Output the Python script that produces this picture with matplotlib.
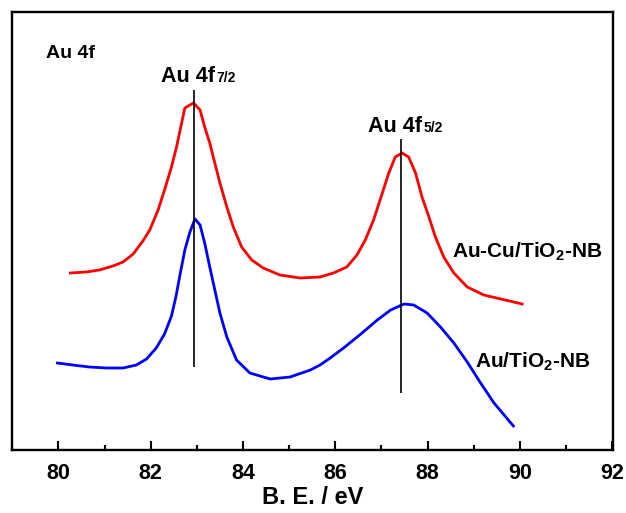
import matplotlib.pyplot as plt
from matplotlib.ticker import MultipleLocator

plt.rcParams["font.family"] = ["Liberation Sans", "DejaVu Sans"]
plt.rcParams["mathtext.default"] = "regular"

# Au-Cu/TiO2-NB (red), binding energy in eV vs. intensity (a.u.)
red_be = [80.26, 80.6, 80.89, 81.18, 81.4, 81.62, 81.83, 81.98, 82.16, 82.3,
          82.45, 82.56, 82.67, 82.74, 82.85, 82.93, 83.07, 83.17, 83.28, 83.39,
          83.5, 83.65, 83.79, 83.97, 84.19, 84.44, 84.8, 85.24, 85.67, 85.96,
          86.25, 86.47, 86.65, 86.83, 87.02, 87.16, 87.3, 87.45, 87.59, 87.74,
          87.88, 88.03, 88.17, 88.35, 88.57, 88.86, 89.22, 89.59, 90.05]
red_int = [183, 184, 186, 190, 194, 202, 215, 226, 246, 266,
           289, 309, 333, 348, 351, 353, 346, 329, 313, 293,
           273, 249, 229, 209, 196, 188, 181, 178, 179, 183,
           189, 201, 216, 236, 263, 283, 299, 303, 299, 283,
           259, 239, 219, 199, 183, 169, 161, 157, 152]

# Au/TiO2-NB (blue)
blue_be = [79.98, 80.31, 80.67, 81.04, 81.4, 81.69, 81.91, 82.12, 82.3, 82.45,
           82.55, 82.63, 82.74, 82.85, 82.96, 83.07, 83.17, 83.28, 83.39, 83.5,
           83.65, 83.86, 84.15, 84.59, 85.02, 85.46, 85.67, 85.89, 86.18, 86.58,
           86.91, 87.2, 87.49, 87.7, 87.99, 88.28, 88.57, 88.86, 89.15, 89.44,
           89.86]
blue_int = [93, 91, 89, 88, 88, 91, 97, 108, 122, 140,
            160, 180, 206, 224, 237, 231, 213, 189, 166, 143,
            119, 96, 83, 77, 79, 86, 91, 98, 108, 123,
            136, 146, 152, 151, 143, 129, 113, 94, 73, 53,
            30]

# peak marker lines: position, bottom, top
peak_pos = [82.93, 87.43]
peak_lo = [89, 63]
peak_hi = [366, 317]
peak_sub = ["7/2", "5/2"]

fig = plt.figure(figsize=(6.26, 5.13), dpi=100)
ax = fig.add_axes([0.0196, 0.1228, 0.9597, 0.8538])

ax.plot(red_be, red_int, color="#ff0000", lw=2.0)
ax.plot(blue_be, blue_int, color="#0000ff", lw=2.0)
ax.vlines(peak_pos, peak_lo, peak_hi, color="black", lw=1.2)

ax.set_xlim(79.0, 92.02)
ax.set_ylim(6, 444)
ax.xaxis.set_major_locator(MultipleLocator(2))
ax.xaxis.set_minor_locator(MultipleLocator(1))
ax.tick_params(axis="x", which="both", direction="in", width=1.5, labelsize=15.5, pad=9)
ax.tick_params(axis="x", which="major", length=6.5)
ax.tick_params(axis="x", which="minor", length=3.6)
ax.set_yticks([])
for lbl in ax.get_xticklabels():
    lbl.set_fontweight("bold")
for sp in ax.spines.values():
    sp.set_linewidth(1.7)

ax.set_xlabel("B. E. / eV", fontsize=17, fontweight="bold", labelpad=2)

ax.text(79.74, 403, "Au 4f", fontsize=14, fontweight="bold", va="center")
label_left = [82.23, 86.72]
label_base = [374, 324]
for x0, y0, sub in zip(label_left, label_base, peak_sub):
    t = ax.text(x0, y0, "Au 4f", fontsize=15.5, fontweight="bold",
                ha="left", va="baseline")
    ax.annotate(sub, xy=(1, 0), xycoords=t, xytext=(1, 3.5), textcoords="offset points",
                fontsize=10, fontweight="bold", ha="left", va="baseline")

ax.text(88.54, 198, "Au-Cu/TiO$_2$-NB", fontsize=15, fontweight="bold", va="baseline")
ax.text(89.02, 88, "Au/TiO$_2$-NB", fontsize=15, fontweight="bold", va="baseline")

fig.savefig("out.png", dpi=100)
